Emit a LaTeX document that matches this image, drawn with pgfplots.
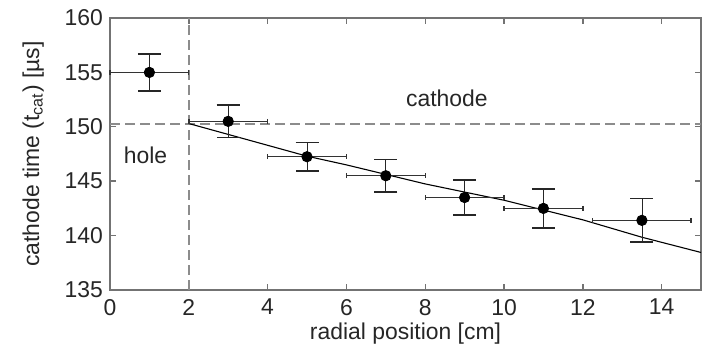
\documentclass[border=0pt]{standalone}
\usepackage{pgfplots}
\pgfplotsset{compat=1.18}
\usepackage{fontspec}
\setmainfont{Liberation Sans}
\usetikzlibrary{calc}
\definecolor{framegray}{gray}{0.45}
\definecolor{dashgray}{gray}{0.55}
\pgfplotstableread{
x    y      ex    ey
1    155.0  1.0   1.7
3    150.5  1.0   1.5
5    147.25 1.0   1.3
7    145.5  1.0   1.5
9    143.5  1.0   1.6
11   142.5  1.0   1.8
13.5 141.4  1.25  2.0
}\data
\begin{document}
\begin{tikzpicture}
\begin{axis}[
  scale only axis, width=295.5bp, height=136bp,
  xmin=0, xmax=15, ymin=135, ymax=160,
  xtick={0,2,...,14}, ytick={135,140,...,160},
  tick align=inside, major tick length=3bp,
  axis line style={framegray, line width=1bp},
  tick style={framegray, line width=0.7bp},
  /pgf/number format/assume math mode=true,
  ticklabel style={font=\fontsize{11.5}{13}\selectfont, text=black!85},
  xticklabel style={yshift=-1bp},
  label style={font=\fontsize{11.5}{13}\selectfont, text=black!85},
  xlabel={radial position [cm]},
  ylabel={cathode time (t\textsubscript{cat}) [µs]},
  xlabel style={at={(axis description cs:0.5,-0.16)}, anchor=center},
  ylabel style={at={(axis description cs:-0.13,0.5)}, anchor=center},
  clip=false,
]
\addplot[dashgray, line width=1bp, dash pattern=on 5bp off 2.5bp] coordinates {(2,135) (2,160)};
\addplot[dashgray, line width=1bp, dash pattern=on 5bp off 2.5bp] coordinates {(0,150.3) (15,150.3)};
\addplot[black, line width=0.55bp] coordinates {(2,150.3) (4,148.3) (5,147.3) (6,146.5) (8,144.75) (10,143.25) (12,141.45) (13.5,139.85) (15,138.45)};
\addplot[black!80, line width=0.7bp, only marks, mark=none,
  error bars/.cd, x dir=both, x explicit,
  error mark options={rotate=90, mark size=1.2bp, line width=0.7bp}]
  table[x=x, y=y, x error=ex] {\data};
\addplot[black!85, line width=0.7bp, only marks, mark=none,
  error bars/.cd, y dir=both, y explicit,
  error mark options={rotate=90, mark size=5.75bp, line width=0.7bp}]
  table[x=x, y=y, y error=ey] {\data};
\addplot[only marks, mark=*, mark size=2.6bp, black] table[x=x, y=y] {\data};
\node[font=\fontsize{11.5}{13}\selectfont, text=black!85] at (axis cs:0.9,147.4) {hole};
\node[font=\fontsize{11.5}{13}\selectfont, text=black!85] at (axis cs:8.55,152.6) {cathode};
\end{axis}
\pgfresetboundingbox
\path ($(current axis.south west)+(-55bp,-31.5bp)$) rectangle ($(current axis.north east)+(4bp,9bp)$);
\end{tikzpicture}
\end{document}
